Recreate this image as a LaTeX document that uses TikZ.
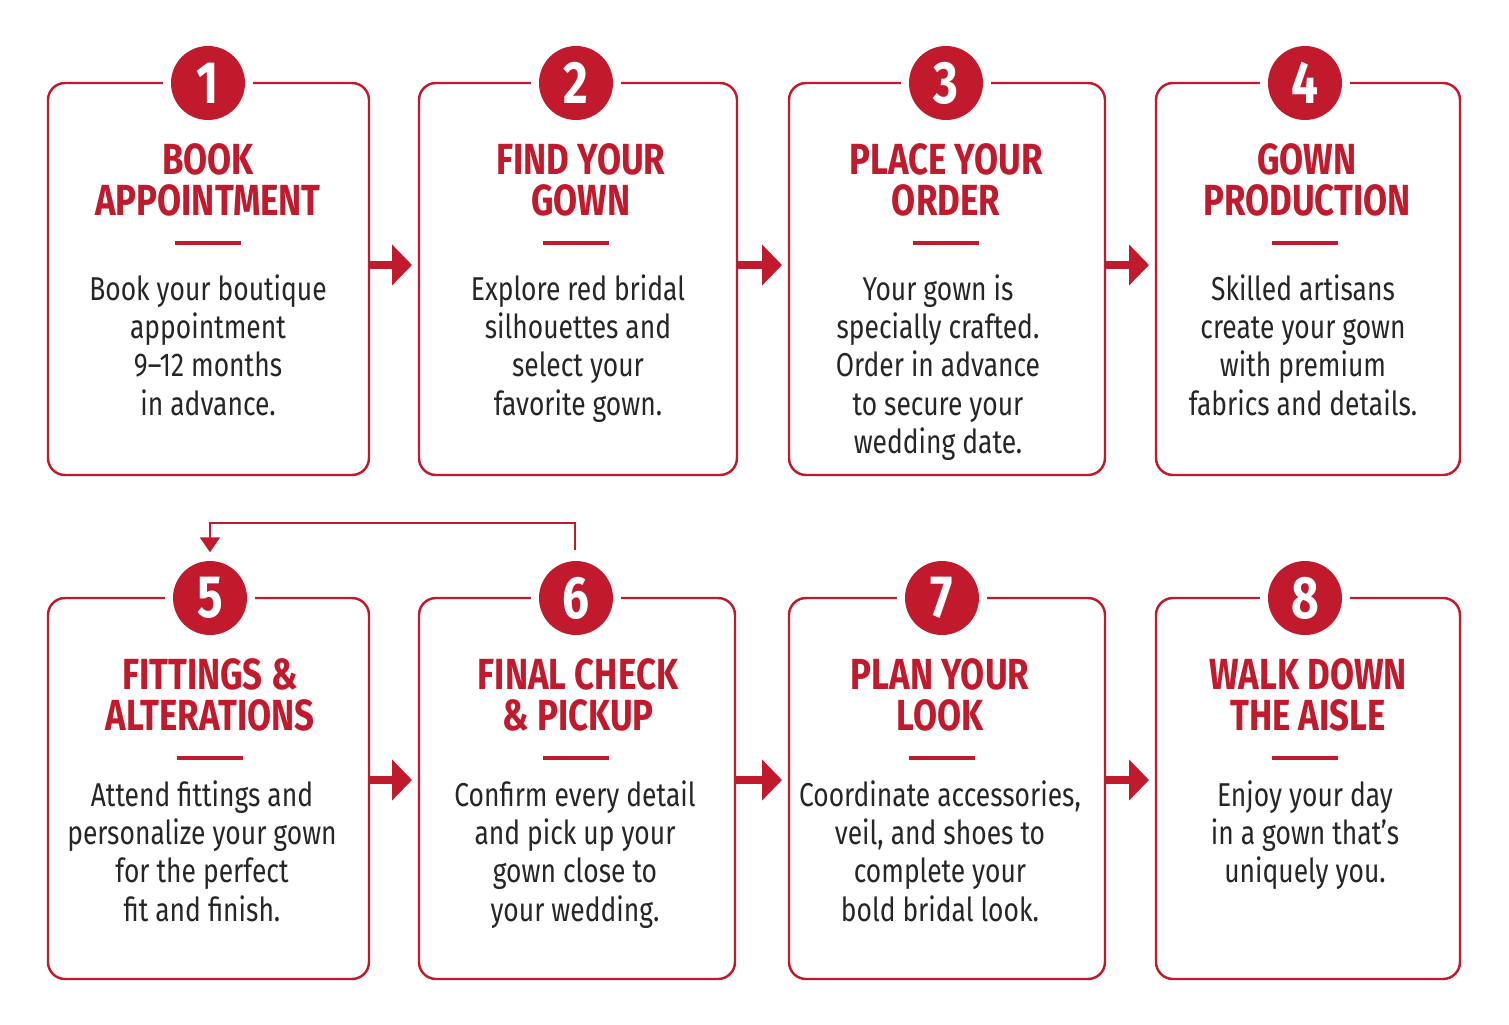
\documentclass[tikz,border=0pt]{standalone}
\usepackage{fontspec}
\setmainfont{Fira Sans}[FakeStretch=0.8]
\usetikzlibrary{arrows.meta}
\definecolor{bridalred}{HTML}{C01A2C}
\tikzset{
  box/.style={draw=bridalred, line width=0.7pt, rounded corners=0.17cm},
  badge/.style={circle, fill=bridalred, minimum size=0.74cm, inner sep=0pt, text=white, font=\fontsize{17}{17}\selectfont\bfseries},
  gap/.style={circle, fill=white, minimum size=0.9cm, inner sep=0pt},
  title/.style={text=bridalred, align=center, font=\fontsize{12.4}{11.5}\selectfont\bfseries},
  body/.style={align=center, text=black!85, font=\fontsize{9.4}{10.9}\selectfont},
  flow/.style={draw=bridalred, line width=0.08cm, shorten >=0.07cm, -{Triangle[width=0.4cm,length=0.2cm]}},
  loop/.style={draw=bridalred, line width=0.6pt, -{Triangle[width=0.2cm,length=0.15cm]}},
}
\begin{document}
\begin{tikzpicture}
		\useasboundingbox (0,0) rectangle (15.09,-10.24);
		% step boxes: left/right/top/bottom/badge x/number
		\foreach \l/\r/\t/\b/\c/\n in {0.48/3.69/-0.83/-4.75/2.08/1, 4.19/7.37/-0.83/-4.75/5.76/2, 7.89/11.05/-0.83/-4.75/9.46/3, 11.56/14.60/-0.83/-4.75/13.05/4, 0.48/3.69/-5.98/-9.79/2.10/5, 4.19/7.35/-5.98/-9.79/5.76/6, 7.89/11.05/-5.98/-9.79/9.42/7, 11.56/14.60/-5.98/-9.79/13.05/8}{
			\draw[box] (\l,\t) rectangle (\r,\b);
			\coordinate (b\n w) at (\l,\t-1.82);
			\coordinate (b\n e) at (\r,\t-1.82);
			\node[gap] at (\c,\t) {};
			\node[badge] (n\n) at (\c,\t) {\n};
			\draw[bridalred, line width=0.04cm] (\c-0.33,\t-1.6) -- (\c+0.33,\t-1.6);
		}
		% titles
		\node[title] (t1) at (2.08,-1.80) {BOOK\\APPOINTMENT};
		\node[title] (t2) at (5.81,-1.80) {FIND YOUR\\GOWN};
		\node[title] (t3) at (9.46,-1.80) {PLACE YOUR\\ORDER};
		\node[title] (t4) at (13.07,-1.80) {GOWN\\PRODUCTION};
		\node[title] (t5) at (2.10,-6.95) {FITTINGS \&\\ALTERATIONS};
		\node[title] (t6) at (5.78,-6.95) {FINAL CHECK\\\& PICKUP};
		\node[title] (t7) at (9.40,-6.95) {PLAN YOUR\\LOOK};
		\node[title] (t8) at (13.08,-6.95) {WALK DOWN\\THE AISLE};
		% descriptions
		\node[body, anchor=north] (d1) at (2.08,-2.62) {Book your boutique\\appointment\\9--12 months\\in advance.};
		\node[body, anchor=north] (d2) at (5.78,-2.62) {Explore red bridal\\silhouettes and\\select your\\favorite gown.};
		\node[body, anchor=north] (d3) at (9.38,-2.62) {Your gown is\\specially crafted.\\Order in advance\\to secure your\\wedding date.};
		\node[body, anchor=north] (d4) at (13.03,-2.62) {Skilled artisans\\create your gown\\with premium\\fabrics and details.};
		\node[body, anchor=north] (d5) at (2.02,-7.68) {Attend fittings and\\personalize your gown\\for the perfect\\fit and finish.};
		\node[body, anchor=north] (d6) at (5.75,-7.68) {Confirm every detail\\and pick up your\\gown close to\\your wedding.};
		\node[body, anchor=north] (d7) at (9.40,-7.68) {Coordinate accessories,\\veil, and shoes to\\complete your\\bold bridal look.};
		\node[body, anchor=north] (d8) at (13.05,-7.68) {Enjoy your day\\in a gown that’s\\uniquely you.};
		% connectors
		\draw[flow] (b1e) -- (b2w);
		\draw[flow] (b2e) -- (b3w);
		\draw[flow] (b3e) -- (b4w);
		\draw[flow] (b5e) -- (b6w);
		\draw[flow] (b6e) -- (b7w);
		\draw[flow] (b7e) -- (b8w);
		\coordinate (back) at (2.10,-5.23);
		\draw[loop] ([shift={(-0.01,0.1)}]n6.north) |- (back) -- ([yshift=0.08cm]n5.north);
	\end{tikzpicture}
\end{document}
